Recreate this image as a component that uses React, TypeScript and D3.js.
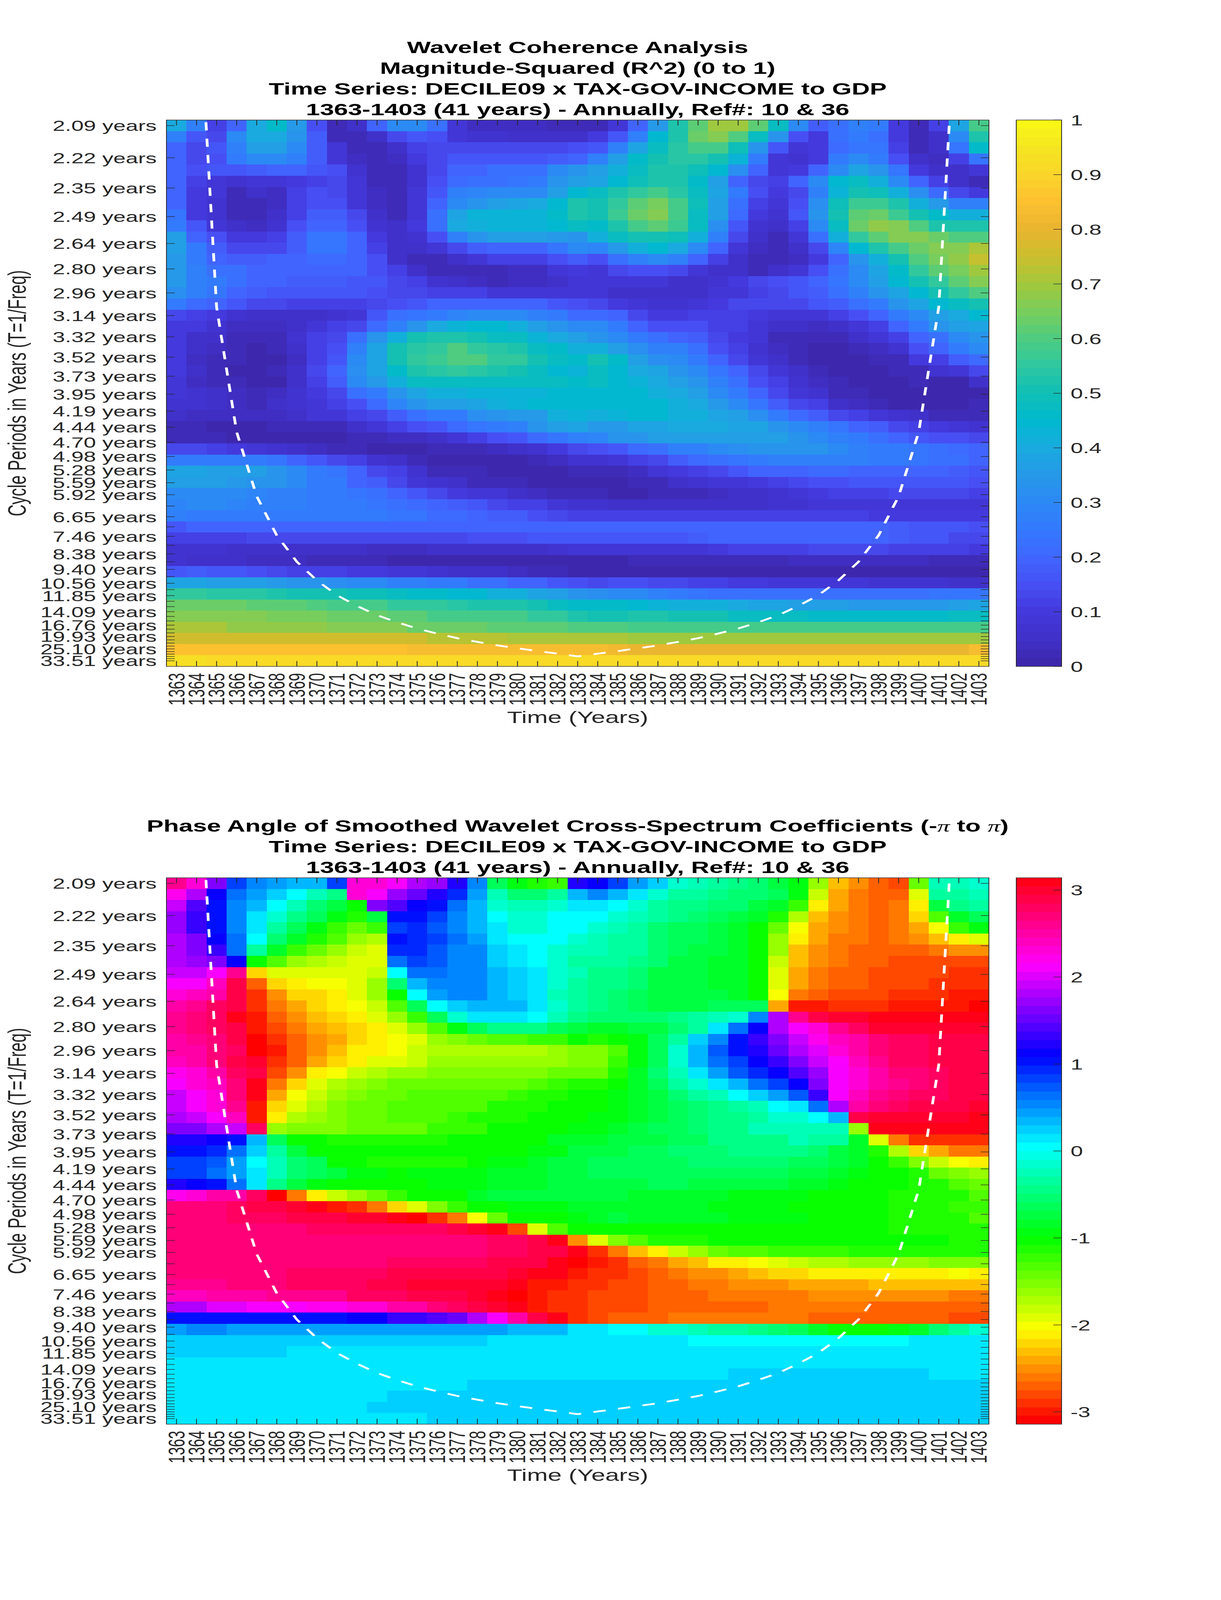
import * as d3 from "d3"

const years = d3.range(1363, 1404)

// periods of the 49 wavelet scales, one row each
const periods = [
    2.094, 2.219, 2.351, 2.491, 2.639, 2.796, 2.962, 3.138, 3.324, 3.522, 3.732, 3.954, 4.189,
    4.438, 4.702, 4.981, 5.277, 5.591, 5.924, 6.276, 6.649, 7.044, 7.463, 7.907, 8.378, 8.876,
    9.404, 9.963, 10.556, 11.183, 11.848, 12.552, 13.298, 14.089, 14.927, 15.815, 16.756, 17.751,
    18.807, 19.926, 21.11, 22.365, 23.695, 25.104, 26.597, 28.178, 29.854, 31.629, 33.51,
]

const periodLabels = [
    "2.09", "2.22", "2.35", "2.49", "2.64", "2.80", "2.96", "3.14", "3.32", "3.52", "3.73", "3.95",
    "4.19", "4.44", "4.70", "4.98", "5.28", "5.59", "5.92", "6.65", "7.46", "8.38", "9.40", "10.56",
    "11.85", "14.09", "16.76", "19.93", "25.10", "33.51",
]

// cone of influence, period per year (ends fall above the chart)
const coiPeriods = [
    null, 1.62, 3.07, 4.52, 5.97, 7.42, 8.87, 10.3, 11.8, 13.2, 14.7, 16.1, 17.6, 19.0, 20.5, 21.9,
    23.4, 24.8, 26.3, 27.9, 29.8, 27.9, 26.3, 24.8, 23.4, 21.9, 20.5, 19.0, 17.6, 16.1, 14.7, 13.2,
    11.8, 10.3, 8.87, 7.42, 5.97, 4.52, 3.07, 1.62, null,
]

// R^2 in percent, rows top to bottom
const coherence = [
    [40,28,12,20,40,46,35,15,3,6,20,30,30,22,8,4,4,4,4,3,3,3,8,20,35,52,62,70,70,62,47,30,18,22,27,25,10,2,12,38,58],
    [28,16,13,30,40,40,33,18,3,2,5,14,17,15,8,7,7,6,6,5,5,10,17,27,44,52,64,67,60,48,33,15,10,22,25,22,10,2,6,31,53],
    [20,14,16,28,36,36,30,18,8,3,2,5,11,14,14,14,14,14,14,14,15,17,27,39,48,54,58,58,49,33,16,9,10,21,24,24,12,3,5,24,46],
    [20,14,15,26,30,30,27,18,9,4,2,4,10,14,16,16,17,17,17,18,19,27,36,46,51,54,54,50,43,25,9,7,10,25,30,25,15,5,4,11,24],
    [20,15,16,17,18,19,19,16,15,7,3,3,7,13,19,20,22,23,23,30,33,36,42,48,53,53,49,44,32,19,9,10,19,31,38,34,24,10,6,6,8],
    [20,11,8,7,8,9,10,11,13,8,3,3,7,15,21,22,23,24,25,33,36,39,44,49,53,53,46,37,19,13,12,20,30,44,47,42,31,19,11,5,2],
    [20,10,8,3,5,4,11,15,14,9,4,3,8,17,28,29,30,30,30,37,44,47,52,56,58,54,47,38,25,15,10,14,27,43,51,49,41,32,21,13,10],
    [20,10,7,2,2,4,12,15,15,9,4,3,9,20,30,34,37,38,40,45,52,50,56,62,65,59,49,37,22,12,9,15,32,49,57,57,52,41,35,28,27],
    [24,10,7,2,2,5,12,18,18,13,6,3,9,22,39,43,43,43,43,46,52,50,57,63,66,58,48,37,21,10,7,16,33,50,62,64,57,51,46,42,42],
    [26,16,8,6,4,7,15,20,20,15,7,5,10,22,40,42,43,43,43,44,47,46,52,59,61,57,47,32,17,7,5,12,30,48,64,68,67,60,53,53,53],
    [36,20,15,10,10,12,18,24,24,19,10,6,7,15,28,33,36,36,36,35,33,42,47,50,51,49,42,27,13,6,3,8,23,41,55,62,67,67,64,60,60],
    [36,25,18,14,13,13,18,24,24,19,12,5,5,8,14,18,20,20,20,24,30,29,35,41,44,40,31,19,9,4,2,6,14,29,44,53,58,63,67,66,71],
    [35,25,19,18,18,19,20,21,21,19,15,6,3,3,6,8,11,12,12,15,18,15,23,28,31,27,20,12,6,2,2,4,10,20,34,42,50,60,65,68,74],
    [35,28,23,22,20,20,20,19,19,19,15,11,6,3,3,3,3,4,4,8,10,9,13,15,15,14,8,6,5,3,6,9,15,22,30,39,46,55,62,65,70],
    [35,28,26,22,20,19,18,18,18,17,16,13,11,7,5,4,3,4,4,6,8,8,9,8,8,6,5,7,10,13,15,17,20,24,31,37,45,50,56,62,67],
    [32,28,24,19,18,17,17,17,17,17,15,14,13,12,12,11,9,9,9,9,9,8,6,6,5,5,5,8,8,12,13,16,18,22,28,34,38,45,50,55,60],
    [25,21,19,17,13,13,11,11,11,11,14,15,17,19,20,20,20,20,20,17,15,14,10,9,7,7,8,10,13,14,14,14,16,18,22,26,33,38,44,47,50],
    [13,11,10,7,6,5,5,6,7,8,16,22,24,26,29,30,30,30,28,26,21,21,19,14,10,10,11,12,12,10,9,9,9,11,15,19,25,30,36,40,44],
    [10,10,7,4,4,4,5,8,11,14,21,28,34,40,43,44,44,41,37,34,30,30,25,20,15,15,15,12,11,8,6,5,4,6,9,12,20,26,33,37,39],
    [10,6,5,3,3,3,7,11,14,23,34,42,50,52,53,50,47,47,43,40,37,33,30,25,22,20,18,13,10,8,3,3,2,3,5,8,12,19,23,30,34],
    [10,6,4,3,1,3,6,11,15,27,38,50,54,56,60,56,54,53,48,46,41,42,36,32,28,27,23,15,11,7,4,2,1,1,2,4,7,15,20,25,30],
    [10,4,3,3,1,1,4,11,16,31,39,51,55,57,60,60,56,55,50,47,46,50,46,36,32,30,26,19,14,9,6,2,1,1,1,2,3,10,12,18,21],
    [10,5,3,1,1,2,6,13,20,32,38,46,52,54,55,54,52,50,47,45,43,47,44,40,38,34,31,24,19,13,9,5,2,1,1,1,2,3,7,9,13],
    [9,4,3,2,1,1,6,11,18,30,35,42,47,48,48,47,47,47,47,47,46,47,44,43,40,36,33,28,22,15,11,7,4,2,1,1,1,2,1,1,5],
    [8,7,5,4,3,4,7,10,14,23,26,34,38,42,42,43,43,43,43,44,44,45,44,44,42,40,36,30,26,19,13,9,7,3,2,1,1,1,1,1,1],
    [7,7,6,4,3,5,7,8,11,15,21,29,33,36,37,38,41,43,44,44,44,45,45,45,44,42,40,35,30,24,18,13,11,6,4,2,1,1,1,1,2],
    [6,4,4,4,4,4,5,8,9,11,14,18,22,25,26,32,33,35,35,41,43,42,43,44,44,42,41,39,36,32,26,21,18,13,11,8,7,5,3,3,3],
    [2,2,1,1,1,2,2,3,3,6,8,11,15,17,21,24,26,28,33,37,38,35,35,39,39,40,40,40,39,38,34,31,28,24,20,18,14,12,10,9,7],
    [2,2,2,1,1,1,1,1,1,2,3,4,4,6,9,12,15,17,21,24,28,29,34,34,36,37,37,37,37,36,36,34,30,27,25,23,19,16,15,15,13],
    [14,13,12,10,8,7,5,4,3,2,1,1,1,2,2,3,4,5,7,10,14,15,16,21,23,27,28,30,32,34,34,34,33,31,28,26,25,24,23,21,20],
    [26,26,26,26,25,24,20,16,14,11,7,6,2,1,1,1,1,1,2,4,7,7,9,11,14,18,21,22,24,26,27,27,27,27,27,26,25,24,22,22,20],
    [38,38,37,37,36,34,31,26,24,19,14,11,7,3,2,2,1,1,1,1,2,2,2,4,8,10,11,13,16,19,20,20,21,21,20,20,20,20,19,18,17],
    [37,37,37,35,34,33,30,26,25,20,18,14,9,7,5,3,3,2,1,1,1,1,1,2,3,5,7,8,9,10,12,13,15,15,16,16,16,16,16,16,15],
    [30,30,30,30,29,28,27,26,25,24,22,20,16,14,10,9,8,6,4,2,2,2,1,1,2,2,2,4,5,5,7,8,10,11,12,12,13,13,13,13,11],
    [29,30,30,29,28,27,27,26,25,25,24,22,21,19,18,16,14,12,11,8,7,7,6,6,6,6,6,6,6,6,7,7,8,9,9,9,9,9,9,9,9],
    [27,25,25,25,25,25,25,25,25,25,25,24,24,21,21,20,18,18,15,13,12,12,12,11,11,11,11,11,11,11,11,11,11,11,11,10,10,10,10,10,10],
    [17,19,19,19,19,19,20,20,20,20,20,20,20,20,20,20,20,20,19,19,19,20,20,20,20,20,20,20,20,20,20,20,20,19,19,19,18,16,16,16,15],
    [11,11,11,11,13,13,13,14,14,14,14,14,14,14,14,15,15,15,16,16,16,16,16,17,17,17,18,19,19,19,19,20,20,20,20,19,18,17,16,14,13],
    [7,7,7,5,5,5,5,5,5,5,4,4,4,5,5,5,5,6,6,7,8,8,8,9,9,9,9,10,11,11,11,12,13,13,13,13,12,12,11,11,10],
    [7,6,6,6,4,4,4,3,3,2,2,1,1,1,1,1,1,1,1,1,1,0,0,2,2,2,2,3,3,3,3,4,4,4,4,4,4,4,2,2,2],
    [17,18,16,16,15,14,12,11,11,10,10,9,8,7,6,5,5,4,3,2,1,1,1,1,0,0,0,0,0,0,0,0,0,0,0,0,0,0,0,0,0],
    [39,38,37,36,36,35,33,33,32,31,30,28,27,26,25,23,22,20,19,17,15,14,15,15,14,13,12,12,10,10,9,9,9,8,8,7,7,7,7,6,6],
    [55,55,54,54,54,53,51,51,50,49,49,47,46,46,44,44,42,41,39,36,34,32,31,30,28,26,24,23,23,23,23,23,23,23,23,23,23,23,24,24,24],
    [63,63,63,63,61,61,61,60,59,59,58,56,55,55,54,53,53,52,50,47,46,46,46,45,43,41,41,41,40,38,38,37,37,36,35,35,35,35,35,36,39],
    [67,67,67,67,67,65,65,65,63,63,63,61,61,58,58,58,58,58,56,55,53,50,50,52,52,51,50,50,48,48,47,47,46,46,46,46,46,46,46,47,48],
    [71,71,71,68,68,68,68,68,66,66,66,66,64,64,64,64,62,62,62,61,60,60,60,59,59,59,59,58,58,58,58,58,58,58,58,58,58,58,58,58,58],
    [76,76,76,76,76,76,76,75,75,75,75,75,75,72,72,72,72,71,71,71,71,71,71,70,70,70,70,70,70,70,70,70,70,70,70,70,70,70,70,70,70],
    [85,85,85,85,85,85,85,85,85,85,85,85,84,84,84,84,84,84,84,84,84,84,82,81,81,81,81,81,81,81,81,81,81,81,81,81,81,81,81,81,84],
    [93,93,92,92,92,92,92,92,92,92,92,92,92,92,92,92,92,92,92,92,92,92,92,92,92,92,92,92,92,92,92,92,92,92,92,92,92,92,92,92,92],
]

// phase angle in tenths of a radian, rows top to bottom
const phase = [
    [26,23,16,8,5,4,3,3,8,23,23,21,18,17,12,5,-6,-9,-11,-12,12,11,8,4,2,-1,-2,-3,-4,-5,-7,-9,-16,-23,-25,-27,-28,-14,-2,-2,-1],
    [22,18,11,6,4,2,0,-2,-4,23,21,17,15,12,9,4,-2,-5,-5,-3,3,5,3,1,-1,-3,-3,-4,-5,-5,-6,-9,-18,-24,-26,-27,-27,-19,-3,-3,-2],
    [19,14,10,5,3,0,-2,-5,-7,-10,16,14,11,10,6,3,-1,-2,-2,-1,1,1,0,-1,-3,-4,-4,-5,-5,-7,-8,-12,-21,-24,-26,-27,-26,-21,-7,-4,-3],
    [17,13,10,5,1,-1,-4,-6,-9,-11,-7,10,10,8,5,3,0,-1,-1,0,0,0,-1,-2,-3,-4,-5,-6,-7,-8,-11,-17,-23,-25,-26,-27,-26,-22,-13,-8,-6],
    [17,13,10,5,1,-3,-6,-9,-12,-14,-12,8,9,7,5,3,1,-1,-1,0,0,-1,-2,-3,-5,-6,-6,-7,-8,-10,-14,-20,-24,-25,-26,-27,-26,-24,-20,-12,-9],
    [18,16,11,6,0,-5,-8,-11,-13,-16,-17,10,9,8,6,4,1,0,0,0,-1,-2,-3,-3,-5,-6,-6,-7,-8,-10,-16,-21,-24,-26,-26,-27,-26,-25,-23,-21,-19],
    [18,16,13,6,-3,-8,-12,-14,-16,-18,-19,9,9,7,5,5,2,1,0,-1,-2,-2,-3,-3,-5,-6,-7,-7,-8,-10,-16,-23,-25,-26,-27,-27,-27,-27,-26,-25,-25],
    [18,17,16,11,-10,-13,-16,-17,-18,-19,-19,6,8,7,5,5,2,1,0,-1,-3,-3,-3,-4,-5,-7,-7,-8,-8,-10,-18,-23,-25,-26,-27,-27,-28,-28,-28,-28,-28],
    [19,19,21,26,-22,-19,-19,-19,-19,-19,-18,0,6,6,5,5,3,2,1,-1,-2,-4,-4,-5,-7,-7,-7,-8,-8,-10,-19,-24,-26,-27,-27,-28,-28,-28,-28,-29,-29],
    [21,21,24,29,-27,-22,-21,-20,-20,-19,-16,-5,3,5,5,5,3,2,1,-1,-3,-4,-4,-5,-7,-7,-7,-8,-8,-10,-19,-24,-26,-27,-27,-28,-28,-28,-29,-29,-29],
    [23,24,25,29,-29,-25,-22,-22,-21,-19,-16,-10,0,4,5,5,3,2,1,-2,-3,-4,-5,-6,-7,-7,-7,-7,-8,-10,-20,-26,-27,-28,-28,-28,-29,-29,-29,-30,-30],
    [25,26,28,29,-29,-26,-24,-22,-21,-20,-18,-13,-6,0,2,3,3,3,1,-1,-3,-4,-5,-6,-7,-7,-7,-6,-6,-6,-24,-30,-30,-29,-29,-29,-30,-30,-30,-30,-31],
    [26,27,28,31,-30,-27,-25,-23,-22,-21,-19,-16,-12,-6,-1,1,1,1,0,-2,-4,-5,-5,-5,-5,-4,-3,-2,-1,5,18,26,29,30,30,31,31,31,31,31,31],
    [26,27,28,29,-30,-28,-26,-24,-23,-22,-21,-19,-16,-13,-9,-6,-4,-4,-4,-6,-7,-8,-8,-7,-7,-5,-3,1,6,11,18,21,23,26,28,30,30,30,30,30,30],
    [25,26,27,29,-31,-29,-27,-25,-24,-22,-21,-20,-19,-16,-15,-14,-13,-13,-12,-12,-10,-11,-10,-9,-6,-3,2,5,10,13,16,19,22,24,25,27,28,28,29,29,29],
    [25,25,27,28,-31,-30,-27,-25,-23,-21,-21,-20,-18,-17,-17,-17,-17,-17,-17,-16,-15,-15,-13,-9,-6,-1,3,7,10,12,15,18,20,23,25,27,28,28,29,29,29],
    [24,25,27,29,30,-29,-27,-24,-22,-21,-19,-19,-18,-16,-16,-16,-16,-16,-16,-16,-15,-15,-12,-9,-6,-1,3,6,8,11,13,16,19,21,24,26,28,28,29,29,29],
    [22,23,25,28,29,-28,-25,-21,-20,-18,-17,-16,-16,-15,-15,-15,-15,-15,-15,-14,-14,-14,-11,-8,-5,-2,1,4,7,9,11,14,17,21,23,25,27,27,28,29,29],
    [21,23,24,27,31,-26,-22,-19,-17,-16,-15,-14,-14,-14,-14,-14,-14,-14,-13,-12,-11,-11,-10,-8,-6,-3,-1,1,3,6,8,11,16,21,23,25,26,27,28,29,29],
    [19,21,23,27,31,-24,-20,-18,-16,-15,-14,-14,-13,-13,-13,-13,-13,-12,-11,-11,-10,-10,-9,-8,-7,-5,-3,-2,0,2,4,7,13,21,24,26,27,28,28,29,29],
    [19,21,23,26,-30,-22,-19,-17,-15,-14,-14,-13,-13,-13,-13,-13,-11,-11,-11,-10,-10,-10,-9,-8,-7,-6,-5,-4,-3,-2,0,1,6,18,25,27,28,29,29,29,30],
    [18,19,21,24,-30,-21,-17,-16,-15,-14,-14,-13,-13,-13,-12,-11,-11,-11,-10,-10,-10,-9,-9,-8,-7,-6,-5,-4,-4,-3,-1,-1,0,3,29,30,30,30,30,30,31],
    [16,16,18,19,28,-16,-15,-15,-15,-14,-14,-14,-14,-12,-12,-12,-10,-10,-10,-10,-9,-9,-8,-7,-6,-6,-5,-4,-4,-2,-2,-2,-2,-2,-16,31,31,31,31,31,31],
    [12,12,11,10,3,-6,-10,-10,-11,-11,-11,-11,-11,-11,-10,-10,-10,-10,-10,-8,-8,-8,-7,-7,-7,-6,-6,-4,-4,-4,-4,-2,-3,-3,-8,-19,-26,-29,-29,-29,-29],
    [10,10,9,6,2,-3,-7,-10,-10,-10,-10,-10,-10,-10,-10,-10,-10,-10,-9,-9,-7,-7,-7,-6,-6,-5,-5,-5,-4,-4,-4,-4,-5,-7,-8,-11,-17,-22,-24,-26,-26],
    [8,8,7,4,0,-2,-5,-6,-10,-10,-11,-11,-11,-11,-11,-10,-9,-9,-8,-7,-7,-6,-6,-6,-6,-6,-5,-5,-5,-5,-5,-6,-6,-7,-8,-10,-12,-15,-18,-20,-21],
    [8,8,6,4,1,-2,-5,-6,-7,-9,-9,-10,-9,-9,-9,-9,-8,-8,-8,-7,-7,-6,-6,-6,-6,-6,-6,-6,-6,-6,-6,-7,-7,-8,-9,-10,-10,-11,-14,-15,-16],
    [12,11,10,6,1,-4,-7,-9,-10,-10,-10,-10,-10,-9,-9,-9,-8,-8,-8,-7,-7,-7,-7,-7,-6,-6,-7,-7,-7,-7,-7,-8,-8,-9,-10,-10,-10,-11,-11,-13,-14],
    [22,23,25,25,28,-31,-26,-21,-18,-16,-14,-12,-10,-10,-10,-8,-7,-7,-7,-7,-7,-7,-7,-8,-8,-8,-8,-8,-9,-9,-9,-9,-10,-10,-10,-10,-11,-11,-11,-11,-13],
    [27,27,27,28,29,29,30,31,-30,-29,-26,-22,-19,-15,-12,-10,-10,-9,-9,-9,-8,-8,-8,-8,-8,-8,-8,-9,-9,-9,-9,-10,-10,-10,-10,-10,-11,-11,-11,-12,-12],
    [27,27,27,28,28,28,29,29,29,30,30,31,-31,-29,-26,-20,-14,-10,-10,-10,-9,-8,-7,-8,-8,-8,-8,-8,-9,-9,-9,-9,-10,-10,-10,-10,-11,-11,-11,-11,-13],
    [27,27,27,27,27,27,27,28,28,28,28,28,28,28,29,30,31,-28,-19,-13,-10,-10,-10,-10,-10,-10,-10,-10,-10,-10,-10,-10,-10,-10,-10,-10,-11,-11,-11,-11,-11],
    [27,27,27,27,27,27,27,27,27,27,27,27,27,27,27,27,28,28,29,31,-25,-19,-15,-13,-11,-11,-11,-10,-10,-10,-10,-10,-10,-10,-10,-10,-10,-10,-10,-11,-11],
    [27,27,27,27,27,27,27,27,27,27,27,27,27,27,27,27,28,28,29,29,31,-29,-26,-23,-21,-18,-16,-14,-13,-13,-12,-12,-12,-12,-11,-11,-11,-11,-11,-11,-11],
    [27,27,27,27,27,27,27,27,27,27,27,28,28,28,28,28,29,29,29,31,-31,-30,-29,-27,-26,-24,-23,-21,-21,-20,-19,-18,-17,-17,-16,-16,-16,-16,-15,-15,-15],
    [27,27,27,27,27,27,28,28,28,28,28,29,29,29,29,29,29,30,31,31,-30,-29,-29,-28,-27,-26,-25,-25,-24,-23,-22,-22,-21,-21,-21,-21,-21,-21,-21,-20,-21],
    [26,26,26,27,27,27,28,28,28,28,29,29,30,30,30,30,30,31,-30,-30,-29,-29,-28,-28,-27,-27,-26,-26,-25,-25,-25,-24,-24,-24,-24,-23,-23,-23,-23,-23,-23],
    [24,24,25,25,25,26,26,26,26,28,28,28,29,29,29,30,31,-31,-30,-29,-29,-28,-28,-28,-27,-27,-27,-26,-26,-26,-26,-26,-25,-25,-25,-25,-25,-25,-25,-26,-26],
    [18,18,20,20,21,21,21,22,22,23,23,25,25,27,28,29,30,31,-30,-29,-29,-28,-28,-28,-27,-27,-27,-27,-27,-27,-26,-26,-26,-26,-26,-27,-27,-27,-27,-27,-27],
    [10,10,10,10,10,10,10,10,10,11,11,13,13,14,15,18,21,25,29,31,-29,-28,-27,-27,-27,-26,-26,-26,-26,-26,-26,-26,-27,-27,-27,-27,-27,-27,-27,-28,-28],
    [4,5,5,4,4,4,4,4,4,4,4,4,4,4,4,4,4,3,3,3,1,1,0,0,-1,-1,-2,-3,-3,-4,-5,-6,-8,-10,-10,-10,-9,-8,-5,-3,-1],
    [2,2,2,2,2,2,2,2,2,2,2,2,2,2,2,2,1,1,1,1,1,1,1,1,1,1,0,0,0,0,0,0,0,0,0,0,0,1,1,1,1],
    [2,2,2,2,2,2,1,1,1,1,1,1,1,1,1,1,1,1,1,1,1,1,1,1,1,1,1,1,1,1,1,1,1,1,1,1,1,1,1,1,1],
    [1,1,1,1,1,1,1,1,1,1,1,1,1,1,1,1,1,1,1,1,1,1,1,1,1,1,1,1,1,1,1,1,1,1,1,1,1,1,1,1,1],
    [1,1,1,1,1,1,1,1,1,1,1,1,1,1,1,1,1,1,1,1,1,1,1,1,1,1,1,1,2,2,2,2,2,2,2,2,2,2,1,1,1],
    [1,1,1,1,1,1,1,1,1,1,1,1,1,1,1,2,2,2,2,2,2,2,2,2,2,2,2,2,2,2,2,2,2,2,2,2,2,2,2,2,2],
    [1,1,1,1,1,1,1,1,1,1,1,2,2,2,2,2,2,2,2,2,2,2,2,2,2,2,2,2,2,2,2,2,2,2,2,2,2,2,2,2,2],
    [1,1,1,1,1,1,1,1,1,1,2,2,2,2,2,2,2,2,2,2,2,2,2,2,2,2,2,2,2,2,2,2,2,2,2,2,2,2,2,2,2],
    [1,1,1,1,1,1,1,1,1,1,1,1,1,2,2,2,2,2,2,2,2,2,2,2,2,2,2,2,2,2,2,2,2,2,2,2,2,2,2,2,2],
]

const parulaStops = [
    "#3d26a8", "#4030c8", "#4338dc", "#4750f5", "#4066ff", "#3478fe", "#2c88f5", "#2698e8", "#1aabdf",
    "#00b9cf", "#0fbfb5", "#2fc8a0", "#4ecc80", "#78ce5c", "#a2c83c", "#ccbe2c", "#e8b530", "#fdc030",
    "#fad52a", "#f4e620", "#faf914",
]
const parulaScale = d3.scaleLinear<string>()
    .domain(parulaStops.map((_, i) => i / (parulaStops.length - 1)))
    .range(parulaStops)

const levels = 64
const parula = (t: number) => {
    const l = Math.min(levels - 1, Math.floor(t * levels))
    return parulaScale((l + 0.5) / levels)
}
// hsv(64): full saturation, so hsl at half lightness is the same colour
const hsvMap = (t: number) => {
    const l = Math.min(levels - 1, Math.floor(t * levels))
    return d3.hsl((360 * l) / levels, 1, 0.5).formatHex()
}

const font = "'Liberation Sans', Arial, sans-serif"
const ink = "#262626"

const left = 426
const right = 2531
const barLeft = 2601
const barRight = 2717
const plotHeight = 2135
const tickLen = 21

type PanelProps = {
    id: string
    top: number
    titles: any[]
    matrix: number[][]
    domain: [number, number]
    barTicks: number[]
    colormap: (t: number) => string
}

function Panel({ id, top, titles, matrix, domain, barTicks, colormap }: PanelProps) {
    const bottom = top + plotHeight
    const x = d3.scaleBand<number>().domain(years).range([left, right])
    const rows = d3.scaleBand<number>().domain(d3.range(periods.length)).range([top, bottom])
    // rows are even on the page, ticks sit at their frequency
    const freq = d3.scaleLinear()
        .domain([1 / periods[0], 1 / periods[periods.length - 1]])
        .range([top + rows.bandwidth() / 2, bottom - rows.bandwidth() / 2])
    const toUnit = d3.scaleLinear().domain(domain).range([0, 1]).clamp(true)
    const barY = d3.scaleLinear().domain(domain).range([bottom, top])
    const barBands = d3.range(levels)

    const coiLine = d3.line<number | null>()
        .defined((d) => d !== null)
        .x((_, i) => (x(years[i]) as number) + x.bandwidth() / 2)
        .y((d) => freq(1 / (d as number)))

    return (
        <g fontFamily={font}>
            <defs>
                <clipPath id={id}>
                    <rect x={left} y={top} width={right - left} height={plotHeight} />
                </clipPath>
            </defs>
            {titles.map((t, i) => (
                <text key={i} x={(left + right) / 2} y={top - 19 - 81 * (titles.length - 1 - i)}
                    textAnchor="middle" fontSize={64.5} fontWeight="bold" fill="#000">{t}</text>
            ))}
            <g shapeRendering="crispEdges">
                {matrix.map((row, r) => row.map((v, c) => (
                    <rect key={r + "-" + c} x={x(years[c])} y={rows(r)}
                        width={x.bandwidth() + 0.5} height={rows.bandwidth() + 0.5}
                        fill={colormap(toUnit(v))} />
                )))}
            </g>
            <path d={coiLine(coiPeriods) as string} clipPath={`url(#${id})`} fill="none" stroke="#fff"
                strokeWidth={7} strokeDasharray="32 32" />
            <g stroke={ink} strokeWidth={2}>
                {years.map((y) => {
                    const px = (x(y) as number) + x.bandwidth() / 2
                    return (
                        <g key={y}>
                            <line x1={px} x2={px} y1={top} y2={top + tickLen} />
                            <line x1={px} x2={px} y1={bottom} y2={bottom - tickLen} />
                        </g>
                    )
                })}
                {periods.map((p) => (
                    <g key={p}>
                        <line x1={left} x2={left + tickLen} y1={freq(1 / p)} y2={freq(1 / p)} />
                        <line x1={right} x2={right - tickLen} y1={freq(1 / p)} y2={freq(1 / p)} />
                    </g>
                ))}
                <rect x={left} y={top} width={right - left} height={plotHeight} fill="none" />
            </g>
            {periods.filter((p) => periodLabels.includes(d3.format(".2f")(p))).map((p) => (
                <text key={p} x={401} y={freq(1 / p) + 21} textAnchor="end" fontSize={57} fill={ink}>
                    {d3.format(".2f")(p)} years
                </text>
            ))}
            {years.map((y) => (
                <text key={y} textAnchor="end" fontSize={57} fill={ink}
                    transform={`translate(${(x(y) as number) + x.bandwidth() / 2 + 20},${bottom + 26}) rotate(-90)`}>
                    {y}
                </text>
            ))}
            <text transform={`translate(66,${(top + bottom) / 2}) rotate(-90)`} textAnchor="middle"
                fontSize={64} fill={ink}>Cycle Periods in Years (T=1/Freq)</text>
            <text x={(left + right) / 2} y={bottom + 221} textAnchor="middle" fontSize={64} fill={ink}>
                Time (Years)
            </text>
            <g shapeRendering="crispEdges">
                {barBands.map((l) => {
                    const h = plotHeight / levels
                    return (
                        <rect key={l} x={barLeft} width={barRight - barLeft} y={bottom - (l + 1) * h}
                            height={h + 0.5} fill={colormap((l + 0.5) / levels)} />
                    )
                })}
            </g>
            <g stroke={ink} strokeWidth={2}>
                {barTicks.map((t) => (
                    <line key={t} x1={barRight - 21} x2={barRight} y1={barY(t)} y2={barY(t)} />
                ))}
                <rect x={barLeft} y={top} width={barRight - barLeft} height={plotHeight} fill="none" />
            </g>
            {barTicks.map((t) => (
                <text key={t} x={2740} y={barY(t) + 21} fontSize={57} fill={ink}>{t}</text>
            ))}
        </g>
    )
}

const period = "1363-1403 (41 years) - Annually, Ref#: 10 & 36"
const series = "Time Series: DECILE09 x TAX-GOV-INCOME to GDP"
const pi = <tspan fontFamily="'Liberation Serif', serif" fontStyle="italic" fontWeight="normal">π</tspan>

export default function App() {
    // NOTE: the test window measured 3125x4096, not 3125x6252, and only the window is photographed.
    // So the svg fills the window with a non-uniform stretch: at a real 3125x6252 it is 1:1,
    // in the 4096-tall window everything shows but is squashed to about 0.655 of its height.
    return (
        <svg viewBox="0 0 3125 6252" preserveAspectRatio="none"
            style={{ position: "fixed", left: 0, top: 0, width: "100vw", height: "100vh", background: "#fff" }}>
            <Panel id="clip-coh" top={469}
                titles={["Wavelet Coherence Analysis", "Magnitude-Squared (R^2) (0 to 1)", series, period]}
                matrix={coherence.map((r) => r.map((v) => v / 100))}
                domain={[0, 1]}
                barTicks={[0, 0.1, 0.2, 0.3, 0.4, 0.5, 0.6, 0.7, 0.8, 0.9, 1]}
                colormap={parula} />
            <Panel id="clip-phase" top={3430}
                titles={[<>Phase Angle of Smoothed Wavelet Cross-Spectrum Coefficients (-{pi} to {pi})</>, series, period]}
                matrix={phase.map((r) => r.map((v) => v / 10))}
                domain={[-Math.PI, Math.PI]}
                barTicks={[-3, -2, -1, 0, 1, 2, 3]}
                colormap={hsvMap} />
        </svg>
    )
}
